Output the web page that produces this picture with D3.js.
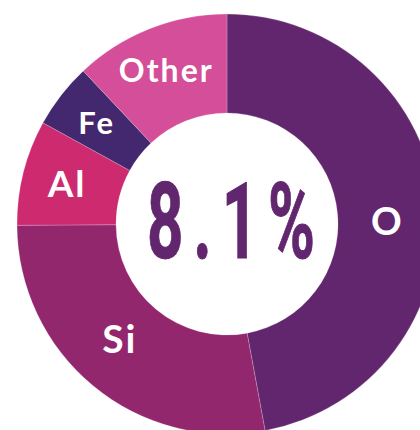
<!DOCTYPE html>
<html>
<head>
<meta charset="utf-8">
<script src="https://d3js.org/d3.v7.min.js"></script>
<style>
  body { margin: 0; background: #fff; }
  .lbl { fill: #fff; font-family: Lato, "Open Sans", sans-serif; font-weight: 700; letter-spacing: 2px; }
</style>
</head>
<body>
<svg id="donut" width="420" height="430"></svg>
<script>
// share of the crust by element, clockwise from 12 o'clock
var elements = ["O", "Si", "Al", "Fe", "Other"];
var shares = [47.1, 27.8, 8.1, 5.0, 12.0];
var sliceColors = ["#62266f", "#93276e", "#ce2a6f", "#43276f", "#d44e99"];
var centerLabel = "8.1%";

var svg = d3.select("#donut");
var cx = 227, cy = 224, rOut = 210, rIn = 111;

var g = svg.append("g").attr("transform", "translate(" + cx + "," + cy + ")");

var pie = d3.pie().sort(null).value(d => d.v);
var arcs = pie(elements.map((e, i) => ({ k: e, v: shares[i], c: sliceColors[i] })));

var arc = d3.arc().innerRadius(rIn).outerRadius(rOut);
var labelArc = d3.arc().innerRadius(165).outerRadius(165);

g.selectAll("path").data(arcs).enter().append("path")
  .attr("d", arc)
  .attr("fill", d => d.data.c)
  .attr("stroke", "rgba(255,255,255,0.35)")
  .attr("stroke-width", 0.6);

// label sizes / nudges differ a bit per slice in the original
var fontSize = { O: 38, Si: 39, Al: 37, Fe: 31, Other: 32 };
var nudge = { O: [-4, 12], Si: [-2, -12] };

g.selectAll("text.lbl").data(arcs).enter().append("text")
  .attr("class", "lbl")
  .attr("transform", d => {
    var c = labelArc.centroid(d), n = nudge[d.data.k] || [0, 0];
    return "translate(" + (c[0] + n[0]) + "," + (c[1] + n[1]) + ")";
  })
  .attr("text-anchor", "middle")
  .attr("dy", "0.36em")
  .style("font-size", d => fontSize[d.data.k] + "px")
  .text(d => d.data.k);

// condensed look: squeeze a normal face horizontally, spread the glyphs
var sx = 0.6;
g.append("g")
  .attr("transform", "translate(4,34) scale(" + sx + ",1)")
  .append("text")
  .attr("text-anchor", "middle")
  .attr("textLength", 168 / sx)
  .attr("lengthAdjust", "spacing")
  .style("font-family", "Roboto, sans-serif")
  .style("font-weight", 700)
  .style("font-size", "106px")
  .attr("fill", "#62266f")
  .attr("stroke", "#62266f")
  .attr("stroke-width", 1)
  .text(centerLabel);
</script>
</body>
</html>
